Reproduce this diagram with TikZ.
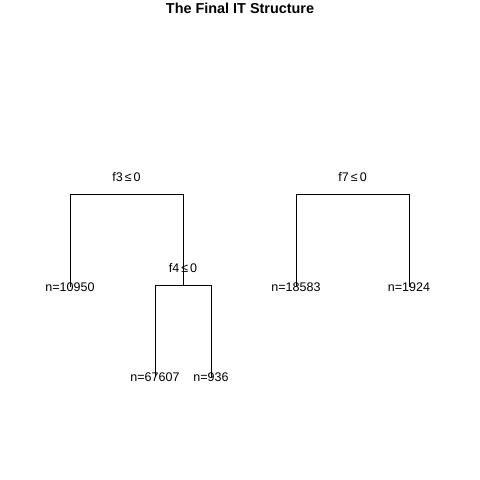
\documentclass[tikz,border=0pt]{standalone}
\usepackage{fontspec}
\setmainfont{Liberation Sans}
\begin{document}
\begin{tikzpicture}[x=1pt,y=-1pt,
  edge/.style={line width=1pt,black},
  lbl/.style={font=\fontsize{12.5}{14}\selectfont,inner sep=0pt,anchor=center},
  ttl/.style={font=\fontsize{14.4}{16}\selectfont\bfseries,inner sep=0pt,anchor=center}]
\useasboundingbox[fill=white] (0,0) rectangle (480,480);
\node[ttl] (title) at (240,8) {The Final IT Structure};

% first tree: split on f3, then f4
\coordinate (aL) at (70,194);
\coordinate (aR) at (183,194);
\coordinate (bL) at (155,285);
\coordinate (bR) at (211,285);
\coordinate (b) at (183,285);
\coordinate (leaf1) at (70,287);
\coordinate (leaf2) at (155,377);
\coordinate (leaf3) at (211,377);
\draw[edge] (leaf1) -- (aL) -- (aR) -- (b);
\draw[edge] (leaf2) -- (bL) -- (bR) -- (leaf3);
\node[lbl] (f3) at (126.5,177) {f3\,≤\,0};
\node[lbl] (f4) at (183,268) {f4\,≤\,0};
\node[lbl] (n1) at (leaf1) {n=10950};
\node[lbl] (n2) at (leaf2) {n=67607};
\node[lbl] (n3) at (leaf3) {n=936};

% second tree: split on f7
\coordinate (cL) at (296,194);
\coordinate (cR) at (409,194);
\coordinate (leaf4) at (296,287);
\coordinate (leaf5) at (409,287);
\draw[edge] (leaf4) -- (cL) -- (cR) -- (leaf5);
\node[lbl] (f7) at (352.5,177) {f7\,≤\,0};
\node[lbl] (n4) at (leaf4) {n=18583};
\node[lbl] (n5) at (leaf5) {n=1924};
\end{tikzpicture}
\end{document}
